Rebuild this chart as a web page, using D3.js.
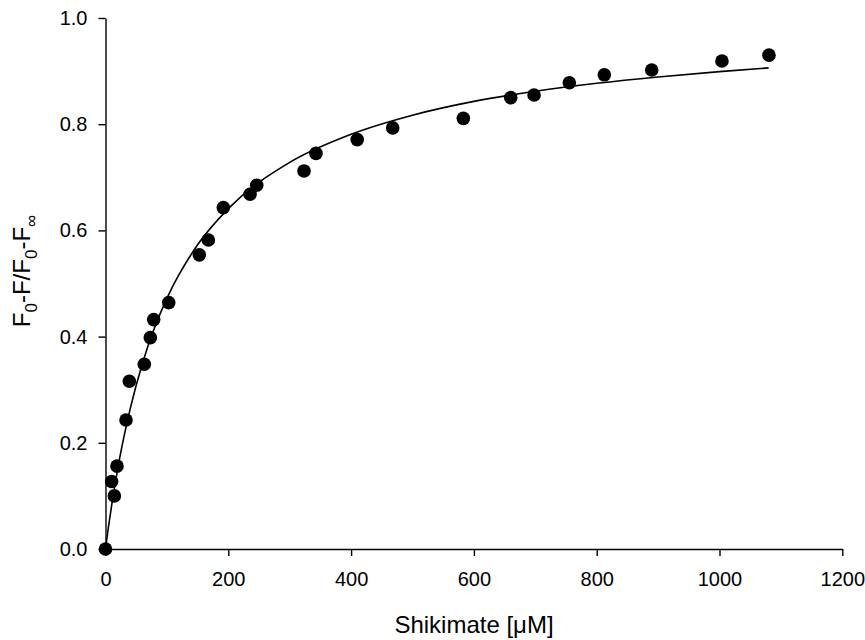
<!DOCTYPE html>
<html>
<head>
<meta charset="utf-8">
<script src="https://cdn.jsdelivr.net/npm/d3@7/dist/d3.min.js"></script>
<style>
  html, body { margin: 0; padding: 0; background: #fff; }
  svg { display: block; }
  text { font-family: Arial, "Liberation Sans", sans-serif; fill: #000; }
</style>
</head>
<body>
<svg id="chart" width="865" height="640"></svg>
<script>
// Measured points (Shikimate µM, normalized fluorescence change)
const pointX = [0, 10, 14.4, 18.7, 33.4, 38.8, 63.2, 73, 78.5, 103, 152.8, 167.5, 191.9, 235.4, 246.3, 323.3, 342.8, 410, 467.8, 582.8, 660, 698, 755.4, 812.4, 889.6, 1004, 1080.6];
const pointY = [0, 0.127, 0.100, 0.156, 0.243, 0.316, 0.348, 0.398, 0.432, 0.464, 0.554, 0.582, 0.643, 0.668, 0.685, 0.712, 0.745, 0.771, 0.793, 0.811, 0.850, 0.855, 0.878, 0.893, 0.902, 0.919, 0.930];

// Fitted curve
const curveX = [0, 5, 10, 20, 40, 60, 80, 100, 150, 200, 300, 400, 500, 600, 700, 800, 900, 1000, 1080];
const curveY = [0, 0.043, 0.082, 0.152, 0.263, 0.349, 0.417, 0.472, 0.573, 0.641, 0.728, 0.781, 0.817, 0.843, 0.862, 0.877, 0.889, 0.899, 0.906];

const xTicks = [0, 200, 400, 600, 800, 1000, 1200];
const yTicks = [0, 0.2, 0.4, 0.6, 0.8, 1.0];

const svg = d3.select("#chart");

const x = d3.scaleLinear().domain([0, 1200]).range([105.5, 842.3]);
const y = d3.scaleLinear().domain([0, 1]).range([549, 18]);

// X axis
const xAxis = svg.append("g")
  .attr("transform", `translate(0,${y(0)})`)
  .call(d3.axisBottom(x).tickValues(xTicks).tickFormat(d3.format("d"))
        .tickSize(7).tickSizeOuter(0).tickPadding(16));
// Y axis
const yAxis = svg.append("g")
  .attr("transform", `translate(${x(0)},0)`)
  .call(d3.axisLeft(y).tickValues(yTicks).tickFormat(d3.format(".1f"))
        .tickSize(7).tickSizeOuter(0).tickPadding(11));

[xAxis, yAxis].forEach(g => {
  g.selectAll(".domain").attr("stroke", "#000").attr("stroke-width", 1.4);
  g.selectAll(".tick line").attr("stroke", "#000").attr("stroke-width", 1.4);
  g.selectAll(".tick text")
    .style("font-family", "Arial, 'Liberation Sans', sans-serif")
    .attr("font-size", 20).attr("fill", "#000");
});

// Curve
const line = d3.line()
  .x((d, i) => x(curveX[i]))
  .y((d, i) => y(curveY[i]))
  .curve(d3.curveMonotoneX);
svg.append("path")
  .datum(curveX)
  .attr("d", line)
  .attr("fill", "none")
  .attr("stroke", "#000")
  .attr("stroke-width", 1.6);

// Points
svg.append("g").selectAll("circle")
  .data(pointX)
  .join("circle")
  .attr("cx", (d) => x(d))
  .attr("cy", (d, i) => y(pointY[i]))
  .attr("r", 6.8)
  .attr("fill", "#000");

// X title
svg.append("text")
  .attr("x", 474).attr("y", 633)
  .attr("text-anchor", "middle")
  .attr("font-size", 24)
  .text("Shikimate [\u03BCM]");

// Y title with subscripts
const yt = svg.append("text")
  .attr("transform", "translate(30,271) rotate(-90)")
  .attr("text-anchor", "middle")
  .attr("font-size", 24);
const parts = [["F", 0], ["0", 1], ["-F/F", 0], ["0", 1], ["-F", 0], ["\u221E", 1]];
let shifted = false;
parts.forEach(([t, sub]) => {
  const ts = yt.append("tspan").text(t);
  if (sub && !shifted) { ts.attr("dy", 7).attr("font-size", 17); shifted = true; }
  else if (sub) { ts.attr("font-size", 17); }
  else if (!sub && shifted) { ts.attr("dy", -7); shifted = false; }
});
</script>
</body>
</html>
